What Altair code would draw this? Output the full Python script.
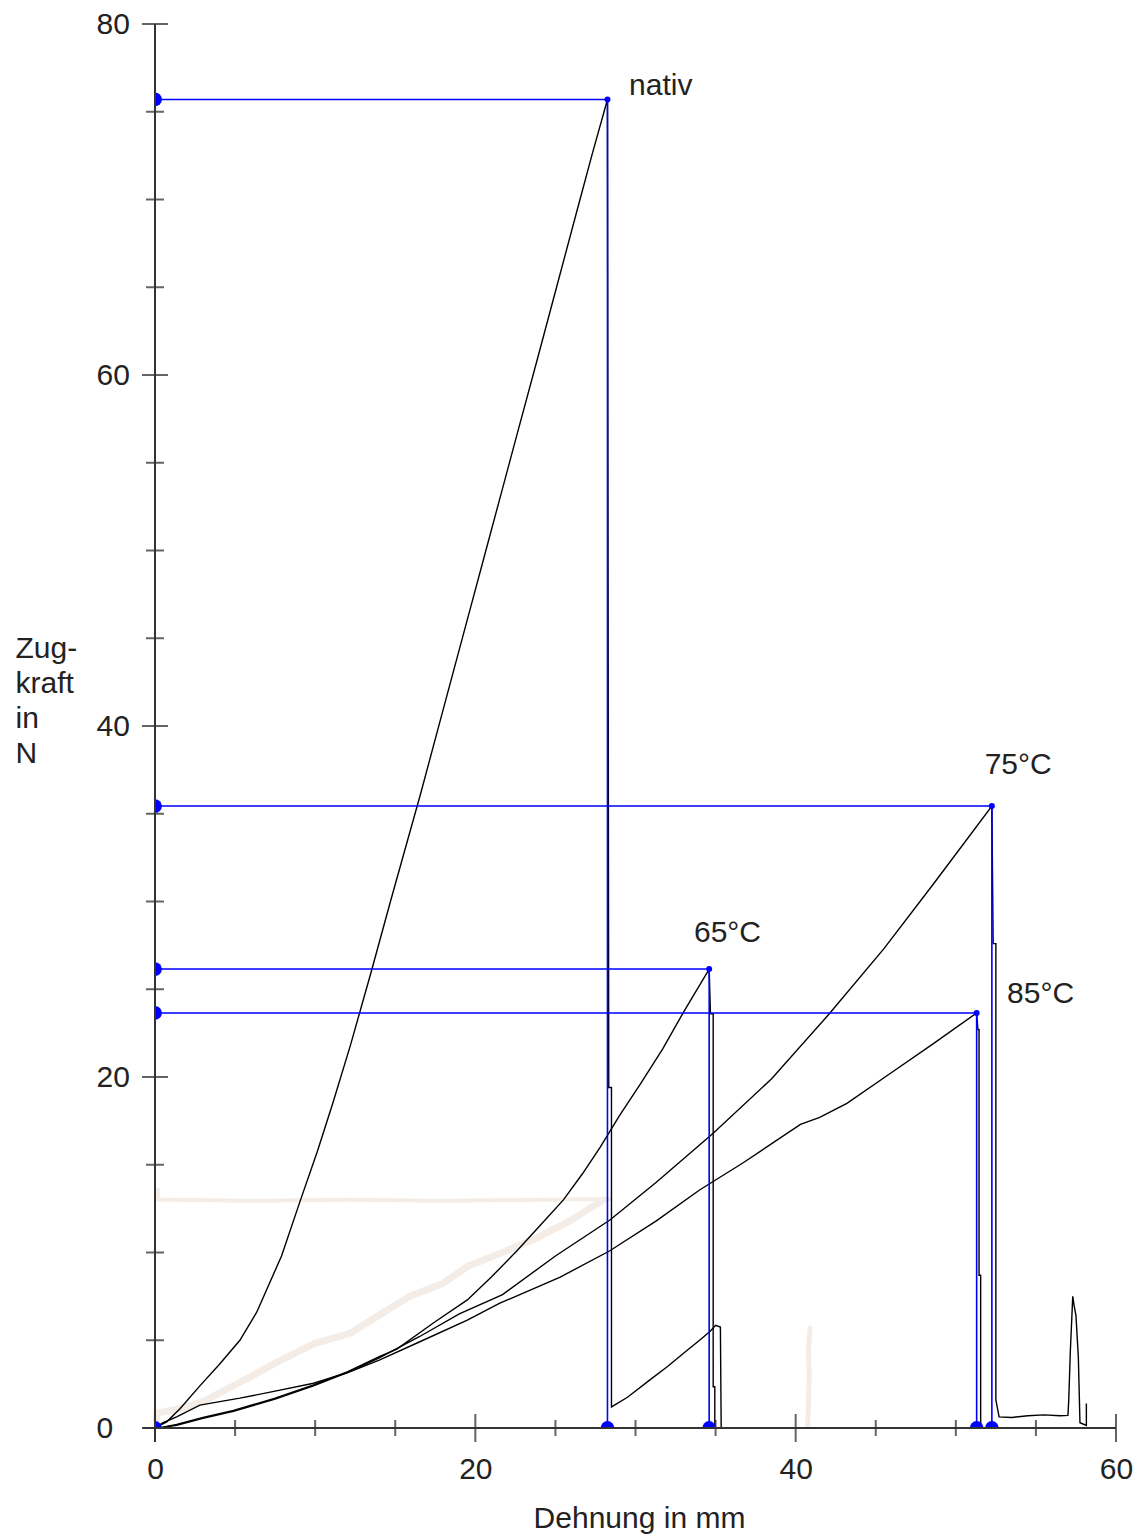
import altair as alt
import pandas as pd

FONT = "Liberation Sans"
INK = "#222222"
BLUE = "#0000ff"
GHOST = "#f4ede7"

# Kraft-Weg-Kurven: Dehnung in mm (x), Zugkraft in N (y), je Probe als Polylinie
nativ_x = [0, 0.73, 1.56, 2.8, 4.0, 5.3, 6.35, 7.9, 9.05, 10.15, 11.1, 12.2, 13.5, 14.7,
           16.6, 18.1, 19.6, 20.6, 21.6, 22.6, 23.9, 25.1, 26.3, 27.3, 28.25,
           28.33, 28.5, 28.5, 29.5, 30.9, 32.0, 33.0, 34.0, 34.65, 35.0, 35.3, 35.35]
nativ_y = [0, 0.35, 1.1, 2.4, 3.6, 5.0, 6.6, 9.8, 12.9, 15.8, 18.5, 21.8, 26.0, 30.0,
           36.2, 41.3, 46.4, 49.8, 53.2, 56.6, 61.0, 65.1, 69.2, 72.6, 75.7,
           19.4, 19.4, 1.2, 1.75, 2.74, 3.5, 4.26, 5.0, 5.5, 5.85, 5.75, 0]

c65_x = [0, 0.5, 1.35, 3.0, 4.9, 7.5, 9.9, 12.0, 14.0, 15.1, 17.4, 19.5, 21.0, 22.6, 24.0,
         25.5, 26.7, 27.8, 29.0, 30.3, 31.7, 33.0, 34.6,
         34.68, 34.85, 34.85, 34.95, 34.95]
c65_y = [0, 0.05, 0.2, 0.6, 1.0, 1.7, 2.45, 3.2, 4.06, 4.5, 6.0, 7.3, 8.6, 10.1, 11.5,
         13.0, 14.5, 16.0, 17.8, 19.6, 21.6, 23.7, 26.15,
         23.6, 23.6, 2.35, 2.35, 0]

c75_x = [0, 0.5, 1.35, 3.0, 4.9, 7.5, 9.9, 12.0, 14.0, 16.5, 19.0, 21.7, 25.0, 28.4, 31.3,
         34.85, 38.5, 42.1, 45.5, 48.6, 52.25,
         52.33, 52.5, 52.5, 52.7, 53.5, 54.5, 55.5, 56.5, 57.0, 57.05, 57.15, 57.3, 57.38,
         57.5, 57.65, 57.75, 58.15, 58.15]
c75_y = [0, 0.04, 0.15, 0.55, 0.95, 1.65, 2.4, 3.15, 4.0, 5.2, 6.5, 7.6, 9.8, 11.85, 14.0,
         16.8, 19.9, 23.6, 27.3, 31.0, 35.44,
         27.6, 27.6, 1.6, 0.63, 0.6, 0.7, 0.75, 0.7, 0.72, 1.6, 4.4, 7.5, 7.0,
         6.4, 4.0, 0.3, 0.15, 1.4]

c85_x = [0, 0.5, 1.35, 2.8, 5.3, 7.5, 9.9, 12.0, 14.0, 16.5, 19.5, 21.5, 25.3, 28.4, 31.3,
         34.0, 36.7, 40.3, 41.5, 43.2, 45.9, 48.6, 51.3,
         51.38, 51.45, 51.45, 51.55, 51.55]
c85_y = [0, 0.3, 0.64, 1.3, 1.7, 2.1, 2.55, 3.15, 3.87, 4.9, 6.15, 7.1, 8.6, 10.1, 11.8,
         13.56, 15.1, 17.3, 17.7, 18.5, 20.2, 21.9, 23.65,
         22.7, 22.7, 8.7, 8.7, 0]

# Maximalkraft je Probe und Beschriftung
probes = ["nativ", "65°C", "75°C", "85°C"]
peak_x = [28.25, 34.6, 52.25, 51.3]
peak_y = [75.7, 26.15, 35.44, 23.65]
label_x = [29.6, 33.65, 51.8, 53.2]
label_y = [75.95, 27.7, 37.26, 24.23]

# blasse Restspur im Hintergrund
ghost_a_x = [0.1, 0.1, 1.5, 3.0, 5.3, 7.5, 9.9, 12.2, 14.2, 15.9, 18.0, 19.5, 21.95, 24.0,
             25.7, 27.3, 28.0]
ghost_a_y = [0.3, 0.85, 1.1, 1.5, 2.6, 3.7, 4.8, 5.4, 6.55, 7.5, 8.25, 9.2, 10.1, 10.9,
             11.7, 12.6, 13.0]
ghost_b_x = [28.4, 24.0, 18.0, 12.0, 6.0, 1.0, 0.2, 0.2]
ghost_b_y = [13.05, 13.0, 12.95, 13.0, 12.95, 13.0, 13.0, 13.6]
ghost_c_x = [40.75, 40.8, 40.85, 40.8, 40.9]
ghost_c_y = [0.1, 1.5, 3.0, 4.5, 5.7]

# Teilstriche
x_minor = [5, 10, 15, 25, 30, 35, 45, 50, 55]
x_major = [20, 40, 60]
y_minor = [5, 10, 15, 25, 30, 35, 45, 50, 55, 65, 70, 75]
y_major = [20, 40, 60, 80]
x_labels = [0, 20, 40, 60]
y_labels = [0, 20, 40, 60, 80]

# ---------------------------------------------------------------- tables
curve_rows = []
for name, xs_, ys_ in [("nativ", nativ_x, nativ_y), ("65°C", c65_x, c65_y),
                       ("75°C", c75_x, c75_y), ("85°C", c85_x, c85_y)]:
    for i, (a, b) in enumerate(zip(xs_, ys_)):
        curve_rows.append({"probe": name, "i": i, "x": a, "y": b})
curves = pd.DataFrame(curve_rows)

ghost_rows = []
for part, xs_, ys_, w in [("a", ghost_a_x, ghost_a_y, 7), ("b", ghost_b_x, ghost_b_y, 4),
                          ("c", ghost_c_x, ghost_c_y, 5)]:
    for i, (a, b) in enumerate(zip(xs_, ys_)):
        ghost_rows.append({"part": part, "i": i, "x": a, "y": b, "w": w})
ghost = pd.DataFrame(ghost_rows)

guide_rows = []
for name, px, py in zip(probes, peak_x, peak_y):
    guide_rows += [
        {"probe": name, "i": 0, "x": 0, "y": py},
        {"probe": name, "i": 1, "x": px, "y": py},
        {"probe": name, "i": 2, "x": px, "y": 0},
    ]
guides = pd.DataFrame(guide_rows)

axis_dots = pd.DataFrame(
    [{"x": 0, "y": py} for py in peak_y]
    + [{"x": px, "y": 0} for px in peak_x]
    + [{"x": 0, "y": 0}]
)
peaks = pd.DataFrame({"x": peak_x, "y": peak_y})
labels = pd.DataFrame({"x": label_x, "y": label_y, "t": probes})

xt = pd.DataFrame({"x": x_minor + x_major, "y": 0,
                   "s": [16] * len(x_minor) + [28] * len(x_major)})
yt = pd.DataFrame({"y": y_minor + y_major, "x": 0,
                   "s": [18] * len(y_minor) + [26] * len(y_major)})

# Achsenlinien, etwas über den Nullpunkt hinaus verlängert
axis_lines = pd.DataFrame([
    {"x": -0.8, "x2": 60, "y": 0, "y2": 0},
    {"x": 0, "x2": 0, "y": -0.8, "y2": 80},
])

# ---------------------------------------------------------------- scales / axes
xs = alt.Scale(domain=[0, 60], nice=False, zero=False)
ys = alt.Scale(domain=[0, 80], nice=False)

x_axis = alt.Axis(
    values=x_labels, domain=False, ticks=False, tickSize=0, grid=False,
    labelFont=FONT, labelFontSize=30, labelColor=INK, labelPadding=26,
    labelFlush=False, labelOverlap=False,
    title="Dehnung in mm", titleFont=FONT, titleFontSize=30, titleFontWeight="normal",
    titleColor=INK, titleX=484, titleY=99, titleAlign="center", titleBaseline="alphabetic",
)
y_axis = alt.Axis(
    values=y_labels, domain=False, ticks=False, tickSize=0, grid=False,
    labelFont=FONT, labelFontSize=30, labelColor=INK, labelPadding=59,
    labelAlign="left", labelFlush=False, labelOverlap=False,
    title=["Zug-", "kraft", "in", "N"], titleFont=FONT, titleFontSize=30,
    titleFontWeight="normal", titleColor=INK, titleAngle=0, titleAlign="left",
    titleBaseline="alphabetic", titleX=-140, titleY=633, titleLineHeight=35,
)

X = alt.X("x:Q", scale=xs, axis=x_axis)
Y = alt.Y("y:Q", scale=ys, axis=y_axis)

ghost_layer = alt.Chart(ghost).mark_line(
    color=GHOST, strokeCap="round", strokeJoin="round"
).encode(x=X, y=Y, detail="part:N", order="i:Q",
         strokeWidth=alt.StrokeWidth("w:Q", scale=None))

curve_layer = alt.Chart(curves).mark_line(color="black", strokeWidth=1.4).encode(
    x=X, y=Y, detail="probe:N", order="i:Q")

guide_layer = alt.Chart(guides).mark_line(color=BLUE, strokeWidth=1.6).encode(
    x=X, y=Y, detail="probe:N", order="i:Q")

axis_dot_layer = alt.Chart(axis_dots).mark_circle(
    color=BLUE, size=190, opacity=1, clip=True).encode(x=X, y=Y)

peak_dot_layer = alt.Chart(peaks).mark_circle(color=BLUE, size=36, opacity=1).encode(
    x=X, y=Y)

label_layer = alt.Chart(labels).mark_text(
    font=FONT, fontSize=30, align="left", baseline="alphabetic", color=INK
).encode(x=X, y=Y, text="t:N")

x_tick_layer = alt.Chart(xt).mark_tick(orient="vertical", color=INK, thickness=2).encode(
    x=X, y=Y, size=alt.Size("s:Q", scale=None))

y_tick_layer = alt.Chart(yt).mark_tick(orient="horizontal", color=INK, thickness=2).encode(
    x=X, y=Y, size=alt.Size("s:Q", scale=None))

axis_line_layer = alt.Chart(axis_lines).mark_rule(color="#333333", strokeWidth=2).encode(
    x=X, x2="x2:Q", y=Y, y2="y2:Q")

chart = alt.layer(
    ghost_layer, curve_layer, guide_layer, axis_dot_layer, peak_dot_layer,
    label_layer, x_tick_layer, y_tick_layer, axis_line_layer,
).properties(
    width=961, height=1404,
    autosize=alt.AutoSizeParams(type="none"),
    padding={"left": 155, "top": 24, "right": 24, "bottom": 109},
    background="white",
).configure_view(stroke=None)

chart.save("out.html", embed_options={"renderer": "svg", "actions": False})
